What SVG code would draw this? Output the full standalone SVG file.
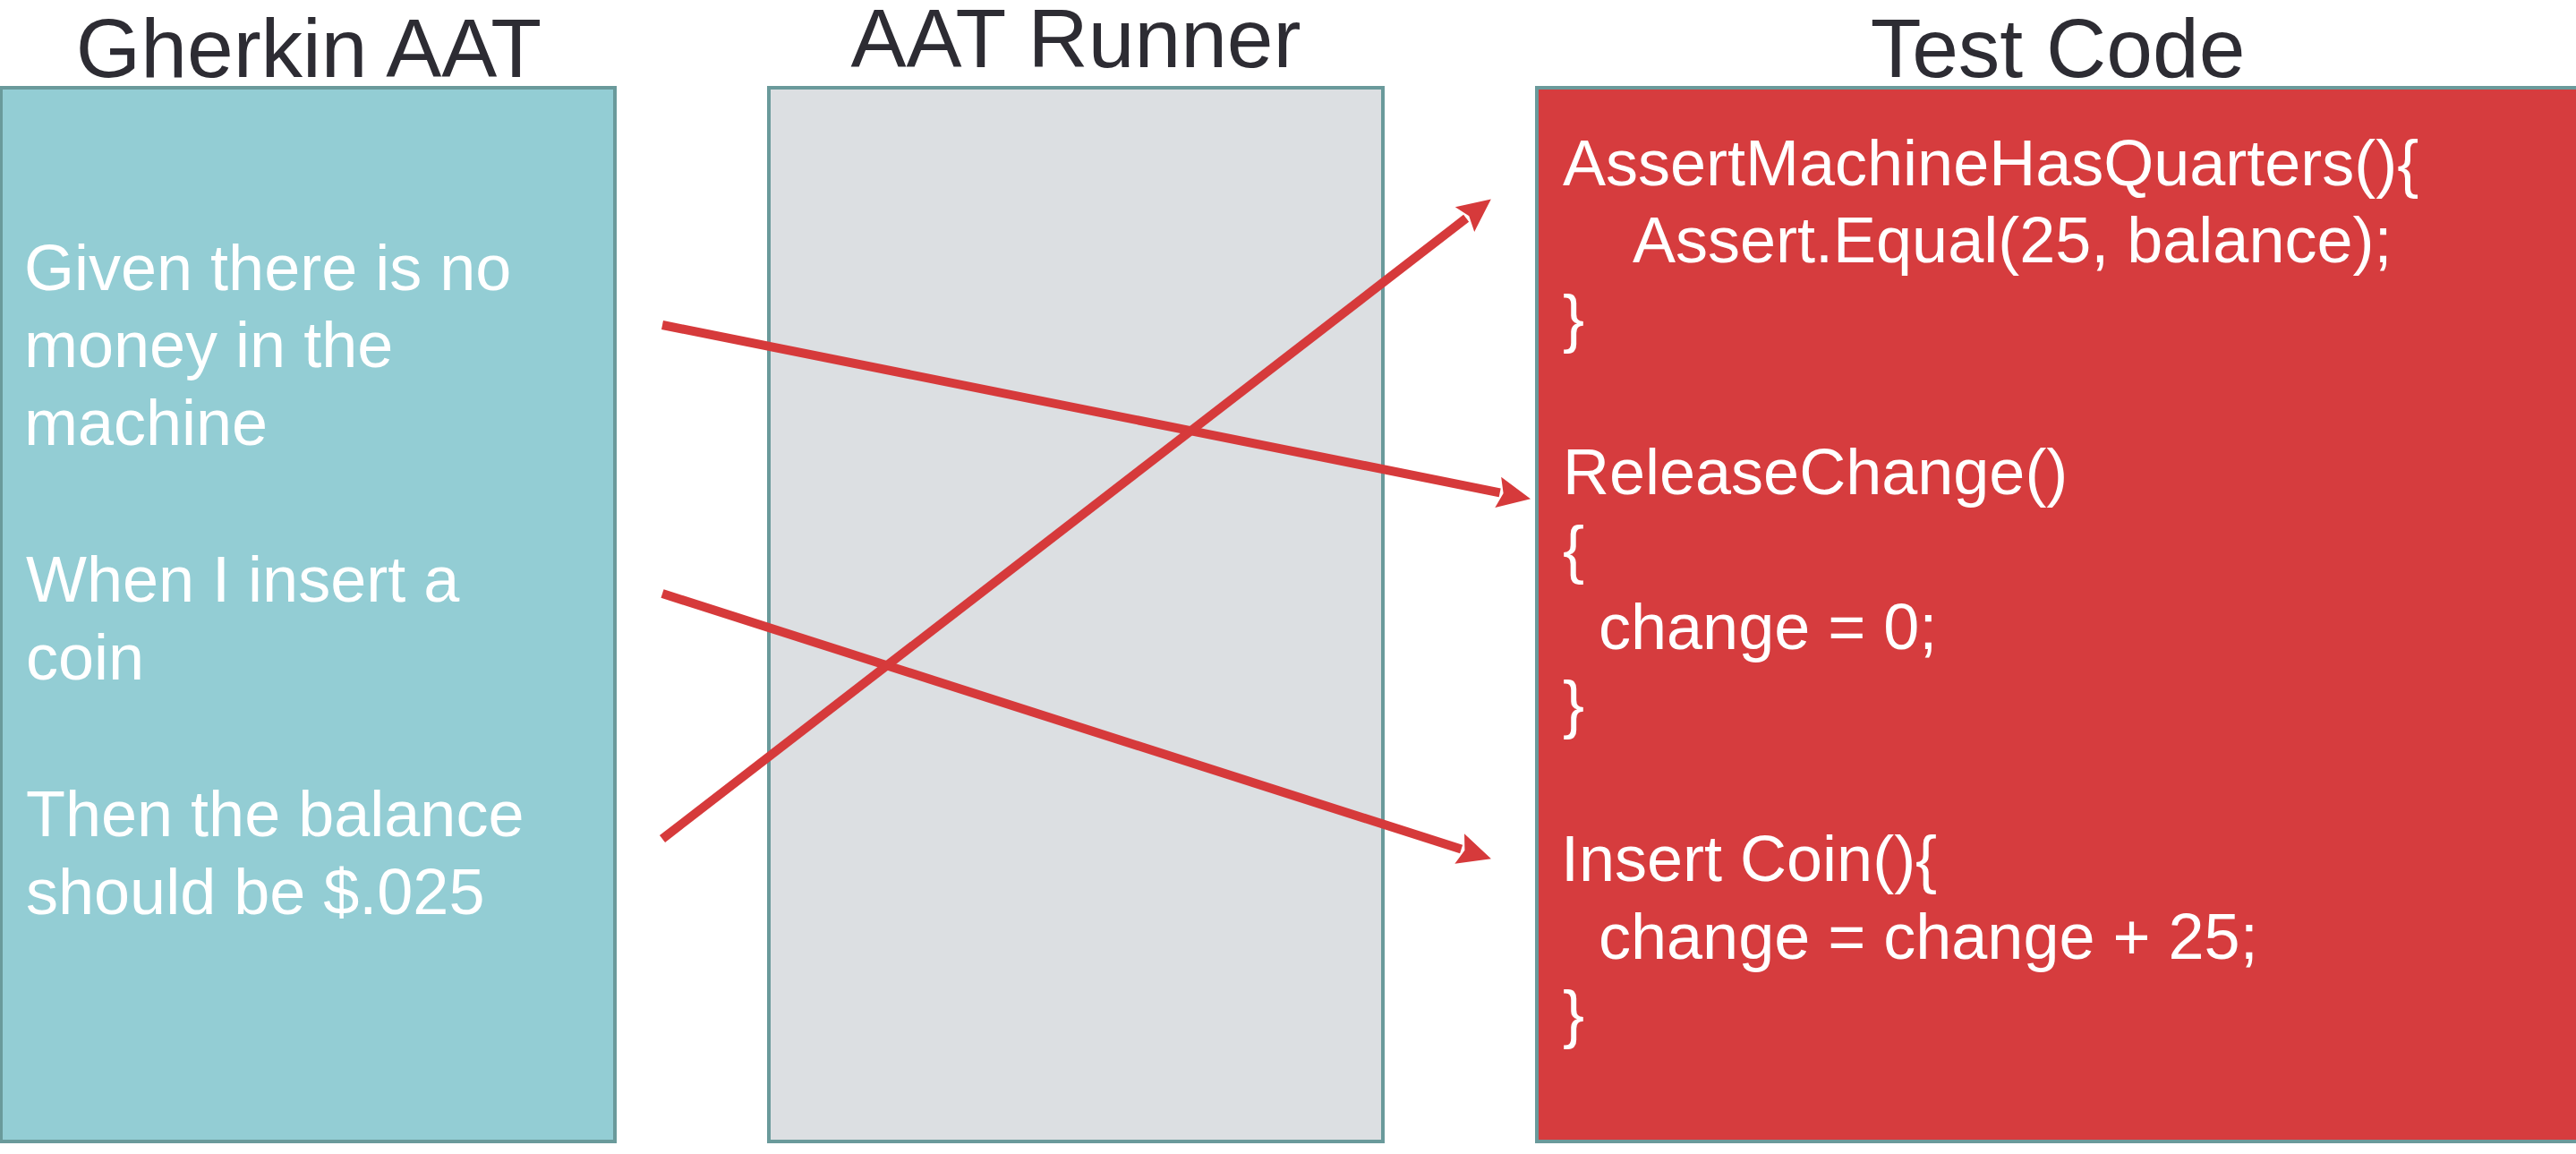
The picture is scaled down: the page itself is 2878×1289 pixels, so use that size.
<svg xmlns="http://www.w3.org/2000/svg" width="2878" height="1289" viewBox="0 0 2878 1289">
<style>
.title{font-family:"Liberation Sans",Arial,sans-serif;font-size:93px;fill:#2D2C33;text-anchor:middle}
.body{font-family:"Liberation Sans",Arial,sans-serif;font-size:72px;fill:#FFFFFF}
.box{stroke:#6A9A9B;stroke-width:4}
.conn{stroke:#D63A3B;stroke-width:10;fill:none}
</style>
<defs>
<marker id="arrow" markerUnits="userSpaceOnUse" markerWidth="40" markerHeight="40" viewBox="0 0 40 40" refX="2" refY="20" orient="auto">
<path d="M0,2.5 L37,20 L0,37.5 L6,20 z" fill="#D63A3B"/>
</marker>
</defs>
<rect width="2878" height="1289" fill="#FFFFFF"/>
<g id="gherkin">
<rect class="box" x="1" y="98" width="686" height="1177" fill="#93CDD4"/>
<text class="title" x="345" y="86">Gherkin AAT</text>
<text class="body" x="27" y="324">Given there is no</text>
<text class="body" x="27" y="410">money in the</text>
<text class="body" x="27" y="497">machine</text>
<text class="body" x="29" y="672">When I insert a</text>
<text class="body" x="29" y="759">coin</text>
<text class="body" x="29" y="934">Then the balance</text>
<text class="body" x="29" y="1021">should be $.025</text>
</g>
<g id="runner">
<rect class="box" x="859" y="98" width="686" height="1177" fill="#DCDFE2"/>
<text class="title" x="1202" y="75">AAT Runner</text>
</g>
<g id="testcode">
<rect class="box" x="1717" y="98" width="1200" height="1177" fill="#D63C3E"/>
<text class="title" x="2299" y="86">Test Code</text>
<text class="body" x="1746" y="207">AssertMachineHasQuarters(){</text>
<text class="body" x="1824" y="293">Assert.Equal(25, balance);</text>
<text class="body" x="1746" y="380">}</text>
<text class="body" x="1746" y="552">ReleaseChange()</text>
<text class="body" x="1746" y="638">{</text>
<text class="body" x="1786" y="725">change = 0;</text>
<text class="body" x="1746" y="811">}</text>
<text class="body" x="1744" y="984">Insert Coin(){</text>
<text class="body" x="1786" y="1071">change = change + 25;</text>
<text class="body" x="1746" y="1157">}</text>
</g>
<g id="connectors">
<line class="conn" x1="740" y1="363" x2="1675.7" y2="550.3" marker-end="url(#arrow)"/>
<line class="conn" x1="740" y1="663" x2="1632.6" y2="948.6" marker-end="url(#arrow)"/>
<line class="conn" x1="740" y1="937" x2="1638.1" y2="243.8" marker-end="url(#arrow)"/>
</g>
</svg>
